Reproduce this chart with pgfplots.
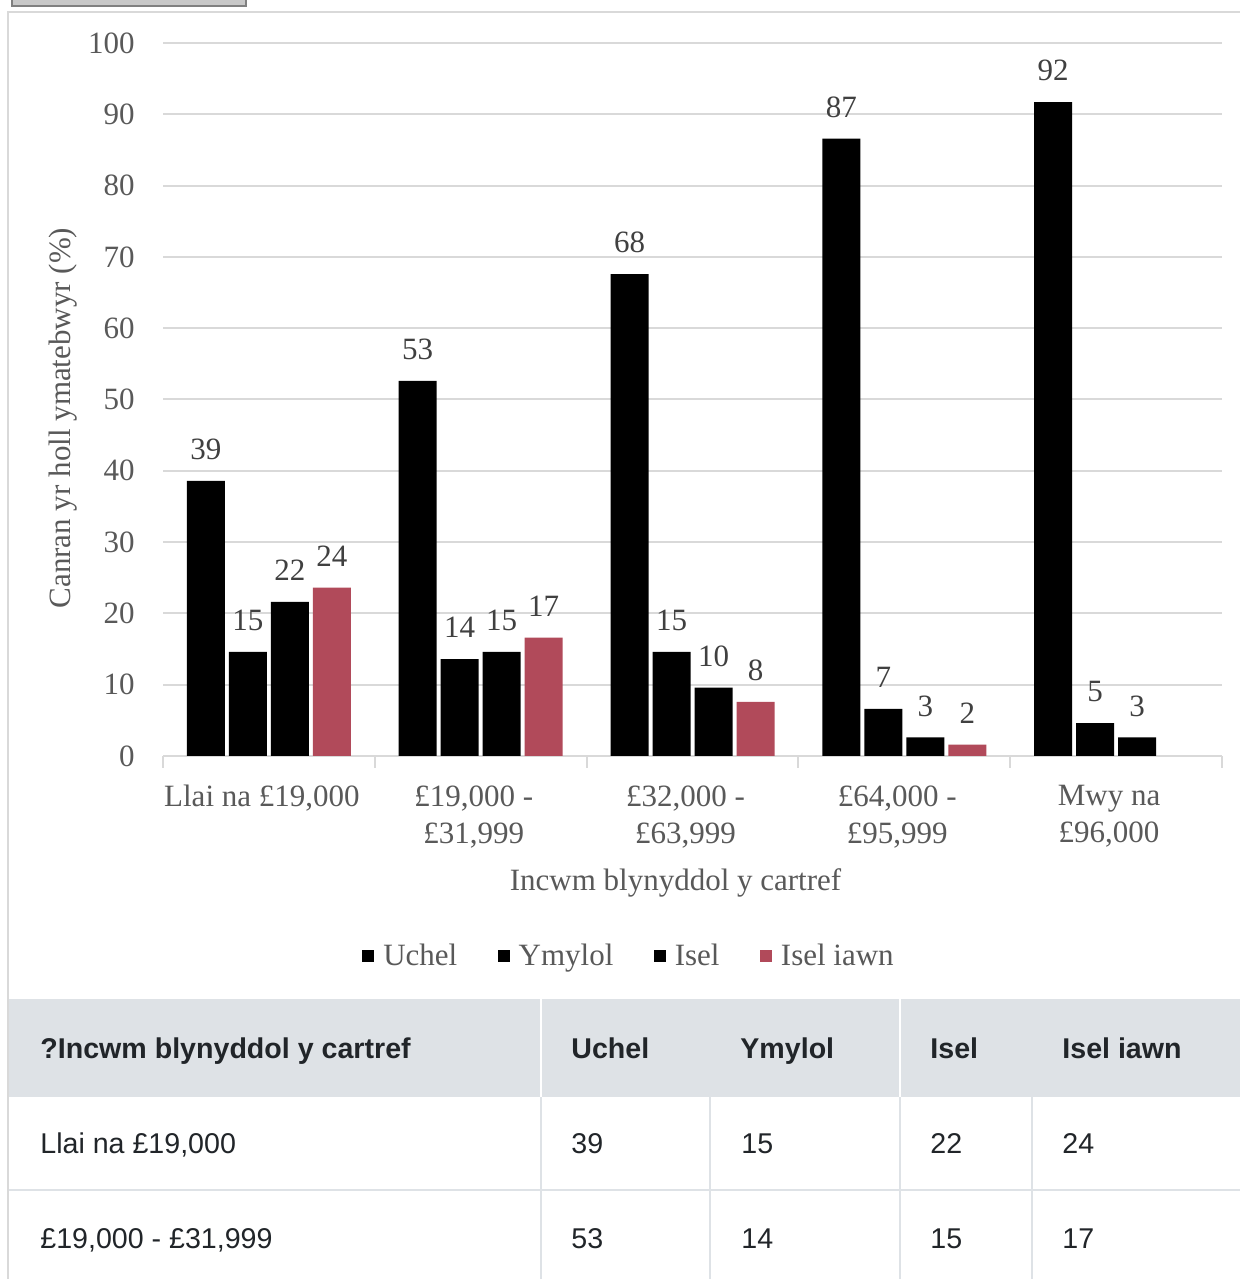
\documentclass[border=0pt]{standalone}
\usepackage{pgfplots}
\pgfplotsset{compat=1.18}
\usepackage{fontspec}
\setmainfont{Liberation Serif}
\newfontfamily\arial{Liberation Sans}
\definecolor{axisgray}{HTML}{D9D9D9}
\definecolor{txtgray}{HTML}{595959}
\definecolor{lblgray}{HTML}{404040}
\definecolor{barred}{HTML}{B14A5A}
\definecolor{hdrfill}{HTML}{DEE2E6}
\definecolor{tblline}{HTML}{DEE2E6}
\definecolor{tbltxt}{HTML}{212529}
\definecolor{btnfill}{HTML}{C8C8C8}
\definecolor{btndraw}{HTML}{808080}
\newcommand{\cf}{\fontsize{15.5}{18.5}\selectfont}
\newcommand{\tf}{\arial\fontsize{14.3}{17}\selectfont}
\begin{document}
\begin{tikzpicture}[x=0.5pt,y=0.5pt]
\useasboundingbox (0,0) rectangle (1240,1279);
\fill[white] (0,0) rectangle (1240,1279);
% button at top left
\draw[fill=btnfill, draw=btndraw, line width=1pt] (12,1273) rectangle (246,1295);
% container border
\draw[axisgray, line width=1pt] (8,0) -- (8,1267) -- (1245,1267);
\begin{axis}[
  at={(81.5pt,261.5pt)}, anchor=south west,
  scale only axis, width=529.5pt, height=356.5pt,
  xmin=-0.5, xmax=4.5, ymin=0, ymax=100,
  axis x line*=bottom, axis y line*=left,
  x axis line style={draw=axisgray, line width=1pt},
  y axis line style={draw=none},
  xtick={0,1,2,3,4},
  xticklabels={{Llai na £19,000}, {£19,000 -\\£31,999}, {£32,000 -\\£63,999}, {£64,000 -\\£95,999}, {Mwy na\\£96,000}},
  minor xtick={-0.5,0.5,1.5,2.5,3.5,4.5},
  ytick={0,10,...,100},
  major tick length=0pt, minor tick length=6pt, tick align=outside,
  tick style={draw=axisgray, line width=1pt},
  ymajorgrids, grid style={draw=axisgray, line width=1pt},
  ticklabel style={font=\cf, text=txtgray},
  xticklabel style={align=center, anchor=north, inner sep=0pt, yshift=-14.5pt, xshift=-3.5pt},
  yticklabel style={anchor=east, inner sep=0pt, xshift=-14pt},
  /pgf/number format/assume math mode=true,
  xlabel={Incwm blynyddol y cartref},
  ylabel={Canran yr holl ymatebwyr (\%)},
  every axis x label/.style={at={(axis description cs:0.484,-0.178)}, anchor=center, font=\cf, text=txtgray},
  every axis y label/.style={at={(axis description cs:-0.0940,0.474)}, rotate=90, anchor=center, font=\cf, text=txtgray},
  every node near coord/.append style={font=\cf, text=lblgray, yshift=7pt},
  legend style={at={(axis description cs:0.441,-0.2805)}, anchor=center, legend columns=4, draw=none, fill=none, font=\cf, text=txtgray,
    /tikz/every odd column/.append style={column sep=2.5pt},
    /tikz/every even column/.append style={column sep=18.2pt}},
]
\addplot[ybar, bar width=19pt, bar shift=-31.5pt, fill=black, draw=none,
  point meta=explicit symbolic, nodes near coords,
  every node near coord/.append style={xshift=-31.5pt},
  legend image code/.code={\fill[black] (0pt,-3pt) rectangle (6pt,3pt);}]
  coordinates {(0,38.6)[39] (1,52.6)[53] (2,67.6)[68] (3,86.6)[87] (4,91.7)[92]};
\addplot[ybar, bar width=19pt, bar shift=-10.5pt, fill=black, draw=none,
  point meta=explicit symbolic, nodes near coords,
  every node near coord/.append style={xshift=-10.5pt},
  legend image code/.code={\fill[black] (0pt,-3pt) rectangle (6pt,3pt);}]
  coordinates {(0,14.6)[15] (1,13.6)[14] (2,14.6)[15] (3,6.6)[7] (4,4.6)[5]};
\addplot[ybar, bar width=19pt, bar shift=10.5pt, fill=black, draw=none,
  point meta=explicit symbolic, nodes near coords,
  every node near coord/.append style={xshift=10.5pt},
  legend image code/.code={\fill[black] (0pt,-3pt) rectangle (6pt,3pt);}]
  coordinates {(0,21.6)[22] (1,14.6)[15] (2,9.6)[10] (3,2.6)[3] (4,2.6)[3]};
\addplot[ybar, bar width=19pt, bar shift=31.5pt, fill=barred, draw=none,
  point meta=explicit symbolic, nodes near coords,
  every node near coord/.append style={xshift=31.5pt},
  legend image code/.code={\fill[barred] (0pt,-3pt) rectangle (6pt,3pt);}]
  coordinates {(0,23.6)[24] (1,16.6)[17] (2,7.6)[8] (3,1.6)[2]};
\legend{Uchel, Ymylol, Isel, Isel iawn}
\end{axis}
% table
\fill[hdrfill] (8,182) rectangle (1240,280);
\draw[white, line width=1pt] (541,182) -- (541,280) (900,182) -- (900,280);
\draw[tblline, line width=1pt] (8,89) -- (1240,89);
\draw[tblline, line width=1pt] (541,0) -- (541,182) (710,0) -- (710,182) (900,0) -- (900,182) (1032,0) -- (1032,182);
\draw[axisgray, line width=1pt] (8,0) -- (8,1267);
\begin{scope}[every node/.style={anchor=base west, inner sep=0pt, font=\tf, text=tbltxt}]
\node[font=\tf\bfseries] at (40,220) {?Incwm blynyddol y cartref};
\node[font=\tf\bfseries] at (571,220) {Uchel};
\node[font=\tf\bfseries] at (740,220) {Ymylol};
\node[font=\tf\bfseries] at (930,220) {Isel};
\node[font=\tf\bfseries] at (1062,220) {Isel iawn};
\node at (40,125) {Llai na £19,000};
\node at (571,125) {39};
\node at (741,125) {15};
\node at (930,125) {22};
\node at (1062,125) {24};
\node at (40,30) {£19,000 - £31,999};
\node at (571,30) {53};
\node at (741,30) {14};
\node at (930,30) {15};
\node at (1062,30) {17};
\end{scope}
\end{tikzpicture}
\end{document}
